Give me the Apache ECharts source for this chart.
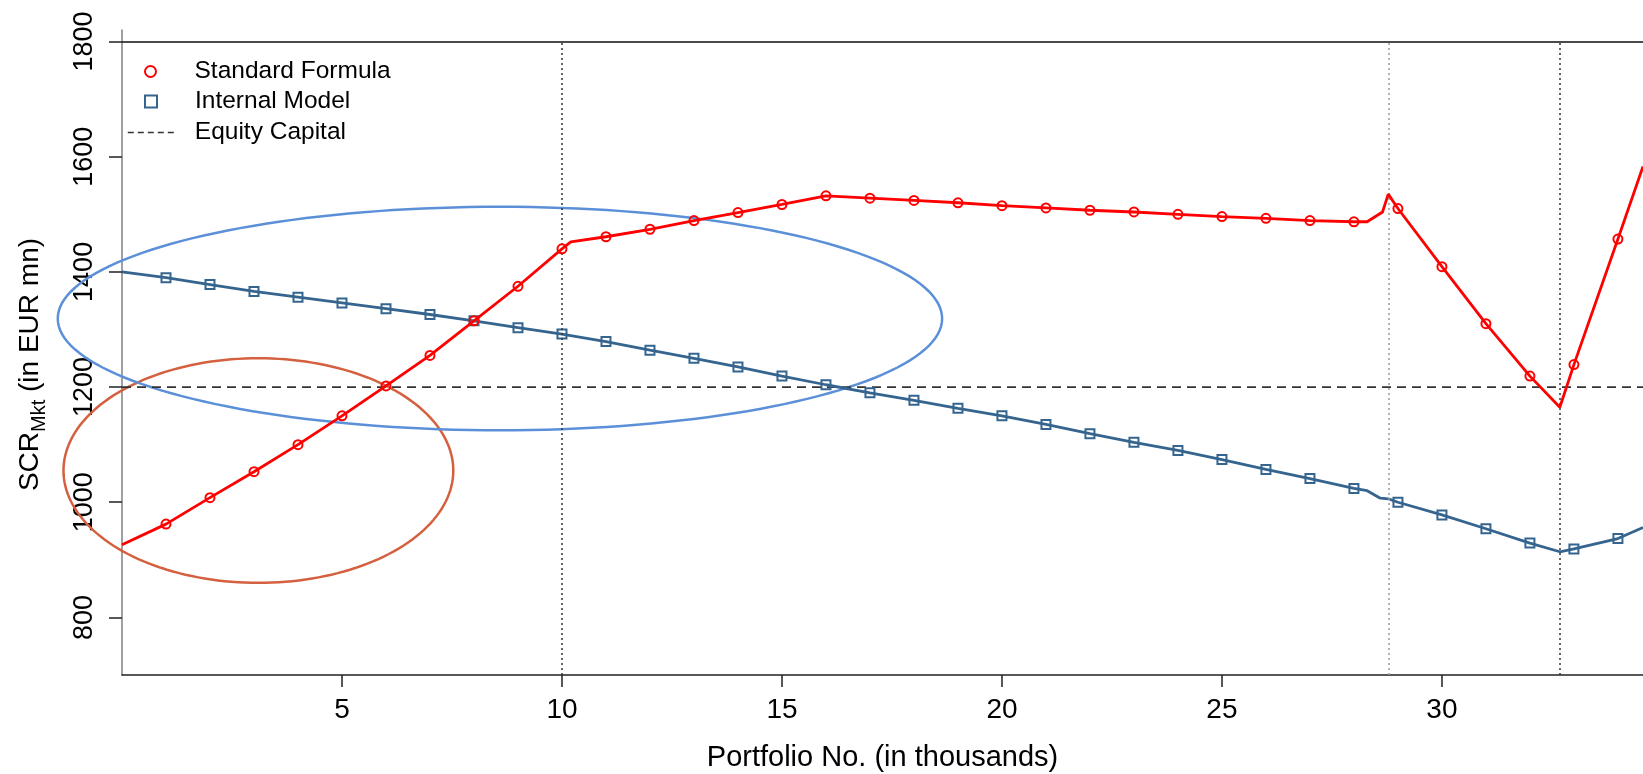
<!DOCTYPE html>
<html>
<head>
<meta charset="utf-8">
<script src="https://cdn.jsdelivr.net/npm/echarts@6/dist/echarts.min.js"></script>
<style>html,body{margin:0;padding:0;background:#fff}#c{width:1643px;height:774px}</style>
</head>
<body>
<div id="c"></div>
<script>
// ---- data ----
const portfolios = [1,2,3,4,5,6,7,8,9,10,11,12,13,14,15,16,17,18,19,20,21,22,23,24,25,26,27,28,29,30,31,32,33,34];
const standardFormula = [962,1008,1053,1100,1150,1202,1255,1315,1375,1440,1461,1474,1489,1503,1517,1532,1528,1524,1520,1515,1511,1507,1504,1500,1496,1493,1489,1487,1510,1409,1310,1219,1239,1457];
const internalModel = [1390,1378,1366,1356,1346,1336,1326,1315,1303,1292,1279,1264,1250,1235,1219,1204,1190,1177,1163,1150,1135,1119,1104,1090,1074,1057,1041,1024,1000,978,954,929,919,937];
// unmarked line vertices (between markers)
const sfLineX = [0,10.2,28.3,28.65,28.78,32.68,34.57];
const sfLineY = [926,1452,1487,1504,1535,1165,1583];
const imLineX = [0,28.3,28.6,28.78,32.68,34.57];
const imLineY = [1400,1020,1007,1006,914,956];
const equityCapital = 1200;
const breakPoints = [10, 28.78, 32.68];
const xTicks = [5,10,15,20,25,30];
const yTicks = [800,1000,1200,1400,1600,1800];
const xRange = [0, 34.57];
const yRange = [700, 1820];
// annotation ellipses: [centerX, centerY, radiusX, radiusY] in data units
const redEllipse = [3.10, 1055, 4.43, 195];
const blueEllipse = [8.59, 1319, 10.05, 194];

const FONT = "'Liberation Sans', Arial, sans-serif";

function buildLine(xs, ys, ex, ey) {
  const pts = xs.map((x, i) => ({ value: [x, ys[i]] }))
    .concat(ex.map((x, i) => ({ value: [x, ey[i]], symbol: 'none' })));
  pts.sort((a, b) => a.value[0] - b.value[0]);
  return pts;
}

const ellipseColors = ['#d4603f', '#5b90d8'];

function legendText(spacer) {
  return {
    fontSize: 24.5, color: '#000', fontFamily: FONT,
    rich: { g: { width: spacer, height: 10 } }
  };
}

const chart = echarts.init(document.getElementById('c'), null, { renderer: 'canvas' });
const option = {
  animation: false,
  backgroundColor: '#ffffff',
  grid: { left: 122, right: 0, top: 30, bottom: 99, outerBoundsMode: 'none', containLabel: false },
  legend: [
    {
      left: 144, top: 59, padding: 0, itemWidth: 12, itemHeight: 11,
      data: [{ name: 'Standard Formula', icon: 'circle', itemStyle: { color: '#ffffff', borderColor: '#ff0000', borderWidth: 2 } }],
      formatter: function (n) { return '{g|}' + n; },
      textStyle: legendText(33),
      selectedMode: false
    },
    {
      left: 144, top: 89, padding: 0, itemWidth: 12, itemHeight: 12,
      data: [{ name: 'Internal Model', icon: 'path://M0,0 H10 V10 H0 Z', itemStyle: { color: '#ffffff', borderColor: '#35658f', borderWidth: 2 } }],
      formatter: function (n) { return '{g|}' + n; },
      textStyle: legendText(33),
      selectedMode: false
    },
    {
      left: 127, top: 120, padding: 0, itemWidth: 46, itemHeight: 12,
      data: [{ name: 'Equity Capital', itemStyle: { opacity: 0 } }],
      lineStyle: { type: [6, 4], width: 1.6, color: '#333' },
      formatter: function (n) { return '{g|}' + n; },
      textStyle: legendText(16),
      selectedMode: false
    }
  ],
  xAxis: {
    type: 'value', min: xRange[0], max: xRange[1],
    axisLine: { show: true, onZero: false, lineStyle: { color: '#222', width: 1.5 } },
    axisTick: { show: true, length: 12, customValues: xTicks, lineStyle: { color: '#222', width: 1.5 } },
    axisLabel: { customValues: xTicks, fontSize: 28, color: '#000', fontFamily: FONT, margin: 21 },
    splitLine: { show: false },
    name: 'Portfolio No. (in thousands)', nameLocation: 'middle', nameGap: 68,
    nameTextStyle: { fontSize: 29, color: '#000', fontFamily: FONT }
  },
  yAxis: {
    type: 'value', min: yRange[0], max: yRange[1],
    axisLine: { show: true, onZero: false, lineStyle: { color: '#808080', width: 1.5 } },
    axisTick: { show: true, length: 13, customValues: yTicks, lineStyle: { color: '#222', width: 1.5 } },
    axisLabel: { customValues: yTicks, rotate: 90, fontSize: 27, color: '#000', fontFamily: FONT, margin: 24,
      formatter: function (v) { return String(v); } },
    splitLine: { show: false },
    name: '{a|SCR}{s|Mkt}{a| (in EUR mn)}', nameLocation: 'middle', nameGap: 73,
    nameTextStyle: {
      color: '#000', fontFamily: FONT, padding: [0, 24, 0, 0],
      rich: {
        a: { fontSize: 28, color: '#000', fontFamily: FONT, lineHeight: 38, verticalAlign: 'middle' },
        s: { fontSize: 20, color: '#000', fontFamily: FONT, lineHeight: 20, verticalAlign: 'bottom' }
      }
    }
  },
  series: [
    {
      type: 'custom', name: 'ellipses', clip: false, silent: true, z: 1,
      data: [redEllipse, blueEllipse],
      encode: { x: 0, y: 1 },
      renderItem: function (params, api) {
        const cx = api.value(0), cy = api.value(1), rx = api.value(2), ry = api.value(3);
        const pts = [];
        for (let k = 0; k < 180; k++) {
          const t = k / 180 * Math.PI * 2;
          pts.push(api.coord([cx + rx * Math.cos(t), cy + ry * Math.sin(t)]));
        }
        return {
          type: 'polygon',
          shape: { points: pts },
          style: { fill: 'none', stroke: ellipseColors[params.dataIndex], lineWidth: 2.5 }
        };
      }
    },
    {
      type: 'line', name: 'refLines', silent: true, data: [], z: 2,
      markLine: {
        silent: true, symbol: 'none', animation: false, label: { show: false },
        data: breakPoints.map((x, i) => [
          { coord: [x, yRange[0]], lineStyle: { color: i === 1 ? '#999' : '#333', type: [2, 3], width: 1.5 } },
          { coord: [x, 1800] }
        ]).concat([[
          { coord: [xRange[0], 1800], lineStyle: { color: '#111', type: 'solid', width: 1.5 } },
          { coord: [xRange[1], 1800] }
        ]])
      }
    },
    {
      type: 'line', name: 'Equity Capital', z: 3,
      data: [[xRange[0], equityCapital], [xRange[1], equityCapital]],
      symbol: 'none',
      lineStyle: { color: '#333', type: [9, 6], width: 1.8 }
    },
    {
      type: 'line', name: 'Internal Model', z: 4,
      data: buildLine(portfolios, internalModel, imLineX, imLineY),
      symbol: 'rect', symbolSize: 9, showAllSymbol: true,
      itemStyle: { color: 'rgba(255,255,255,0)', borderColor: '#35658f', borderWidth: 2 },
      lineStyle: { color: '#35658f', width: 2.8 },
      emphasis: { disabled: true }
    },
    {
      type: 'line', name: 'Standard Formula', z: 5,
      data: buildLine(portfolios, standardFormula, sfLineX, sfLineY),
      symbol: 'circle', symbolSize: 9, showAllSymbol: true,
      itemStyle: { color: 'rgba(255,255,255,0)', borderColor: '#ff0000', borderWidth: 2 },
      lineStyle: { color: '#ff0000', width: 2.8 },
      emphasis: { disabled: true }
    }
  ]
};
chart.setOption(option);
</script>
</body>
</html>
